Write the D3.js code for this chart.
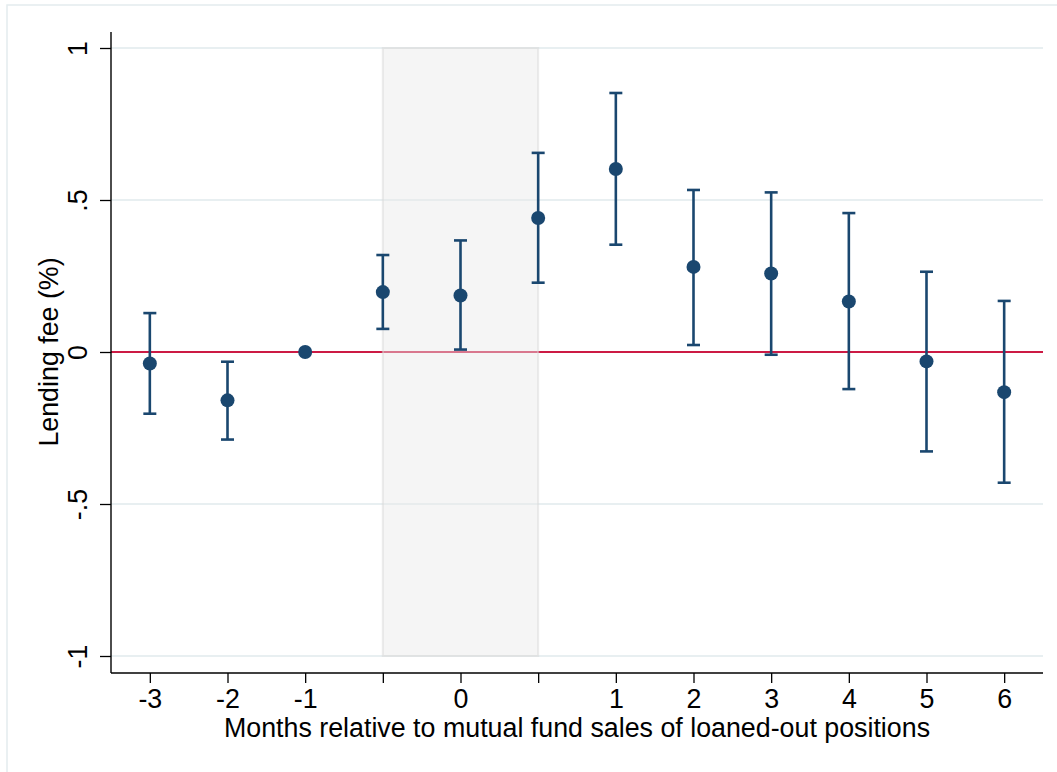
<!DOCTYPE html>
<html>
<head>
<meta charset="utf-8">
<script src="https://cdn.jsdelivr.net/npm/d3@7"></script>
<style>
  body { margin: 0; background: #fff; }
  svg text { font-family: "Liberation Sans", Arial, sans-serif; fill: #000; }
</style>
</head>
<body>
<div id="chart"></div>
<script>
// data (months relative to event; two unlabeled slots bracket month 0)
var tickLabels = ["-3", "-2", "-1", "", "0", "", "1", "2", "3", "4", "5", "6"];
var estimates  = [-0.038, -0.159, 0, 0.197, 0.186, 0.441, 0.602, 0.280, 0.258, 0.166, -0.031, -0.132];
var ciHigh     = [0.128, -0.032, null, 0.319, 0.367, 0.655, 0.852, 0.533, 0.525, 0.457, 0.264, 0.168];
var ciLow      = [-0.203, -0.288, null, 0.076, 0.008, 0.228, 0.353, 0.023, -0.009, -0.122, -0.327, -0.430];
var yTicks     = [-1, -0.5, 0, 0.5, 1];
var shadeFrom  = 3, shadeTo = 5;   // index range of grey band

var width = 1057, height = 772;
var plotLeft = 111, plotRight = 1043, plotTop = 32, plotBottom = 673;
var navy = "#1a476f";
var fontSize = "26.8px";

var svg = d3.select("#chart").append("svg")
    .attr("width", width)
    .attr("height", height);

// outer frame (only top/left edges visible)
svg.append("rect")
    .attr("x", 7).attr("y", 5)
    .attr("width", 1200).attr("height", 900)
    .attr("fill", "none")
    .attr("stroke", "#e4ecee")
    .attr("stroke-width", 1.5);

var idx = d3.range(tickLabels.length);
var xScale = d3.scalePoint().domain(idx).range([plotLeft, plotRight]).padding(0.5);
var yScale = d3.scaleLinear().domain([-1, 1]).range([656, 48]);

// gridlines
svg.append("g").selectAll("line")
    .data(yTicks.filter(function(d) { return d !== 0; }))
    .enter().append("line")
    .attr("x1", plotLeft).attr("x2", plotRight)
    .attr("y1", function(d) { return yScale(d); })
    .attr("y2", function(d) { return yScale(d); })
    .attr("stroke", "#e8eff1")
    .attr("stroke-width", 2);

// zero reference line
svg.append("line")
    .attr("x1", plotLeft).attr("x2", plotRight)
    .attr("y1", yScale(0)).attr("y2", yScale(0))
    .attr("stroke", "#cc1a44")
    .attr("stroke-width", 2.2);

// shaded band
svg.append("rect")
    .attr("x", xScale(shadeFrom))
    .attr("y", yScale(1))
    .attr("width", xScale(shadeTo) - xScale(shadeFrom))
    .attr("height", yScale(-1) - yScale(1))
    .attr("fill", "rgba(232,232,232,0.45)")
    .attr("stroke", "rgba(215,215,215,0.5)")
    .attr("stroke-width", 2);

// error bars
var pts = idx.map(function(i) {
  return { i: i, est: estimates[i], hi: ciHigh[i], lo: ciLow[i] };
});
var withCI = pts.filter(function(d) { return d.hi !== null; });

var bars = svg.append("g")
    .attr("stroke", navy)
    .attr("stroke-width", 2.6);

bars.selectAll(".stem").data(withCI).enter().append("line")
    .attr("class", "stem")
    .attr("x1", function(d) { return xScale(d.i); })
    .attr("x2", function(d) { return xScale(d.i); })
    .attr("y1", function(d) { return yScale(d.hi); })
    .attr("y2", function(d) { return yScale(d.lo); });

bars.selectAll(".capHi").data(withCI).enter().append("line")
    .attr("x1", function(d) { return xScale(d.i) - 6.5; })
    .attr("x2", function(d) { return xScale(d.i) + 6.5; })
    .attr("y1", function(d) { return yScale(d.hi); })
    .attr("y2", function(d) { return yScale(d.hi); });

bars.selectAll(".capLo").data(withCI).enter().append("line")
    .attr("x1", function(d) { return xScale(d.i) - 6.5; })
    .attr("x2", function(d) { return xScale(d.i) + 6.5; })
    .attr("y1", function(d) { return yScale(d.lo); })
    .attr("y2", function(d) { return yScale(d.lo); });

// point estimates
svg.append("g").selectAll("circle")
    .data(pts)
    .enter().append("circle")
    .attr("cx", function(d) { return xScale(d.i); })
    .attr("cy", function(d) { return yScale(d.est); })
    .attr("r", 7)
    .attr("fill", navy);

// y axis, Stata style labels: 1, .5, 0, -.5, -1
var yaxis = d3.axisLeft(yScale)
    .tickValues(yTicks)
    .tickSize(11)
    .tickSizeOuter(0)
    .tickFormat(function(d) { return String(d).replace("0.", "."); });

var gy = svg.append("g")
    .attr("transform", "translate(" + plotLeft + ",0)")
    .call(yaxis);
gy.select(".domain").remove();
gy.selectAll(".tick line").attr("stroke", "#000").attr("stroke-width", 1.3);
gy.selectAll(".tick text")
    .attr("x", 0).attr("dy", 0)
    .attr("transform", "translate(-24,0) rotate(-90)")
    .attr("text-anchor", "middle")
    .style("font-size", fontSize);

svg.append("line")
    .attr("x1", plotLeft).attr("x2", plotLeft)
    .attr("y1", plotTop).attr("y2", plotBottom)
    .attr("stroke", "#000").attr("stroke-width", 1.4);

// x axis
var xaxis = d3.axisBottom(xScale)
    .tickSize(10)
    .tickSizeOuter(0)
    .tickFormat(function(i) { return tickLabels[i]; });

var gx = svg.append("g")
    .attr("transform", "translate(0," + plotBottom + ")")
    .call(xaxis);
gx.select(".domain").remove();
gx.selectAll(".tick line").attr("stroke", "#000").attr("stroke-width", 1.3);
gx.selectAll(".tick text")
    .attr("y", 35).attr("dy", 0)
    .style("font-size", fontSize);

svg.append("line")
    .attr("x1", plotLeft).attr("x2", plotRight)
    .attr("y1", plotBottom).attr("y2", plotBottom)
    .attr("stroke", "#000").attr("stroke-width", 1.4);

// axis titles
svg.append("text")
    .attr("x", (plotLeft + plotRight) / 2)
    .attr("y", 737)
    .attr("text-anchor", "middle")
    .style("font-size", fontSize)
    .text("Months relative to mutual fund sales of loaned-out positions");

svg.append("text")
    .attr("transform", "translate(58," + yScale(0) + ") rotate(-90)")
    .attr("text-anchor", "middle")
    .style("font-size", fontSize)
    .text("Lending fee (%)");
</script>
</body>
</html>
